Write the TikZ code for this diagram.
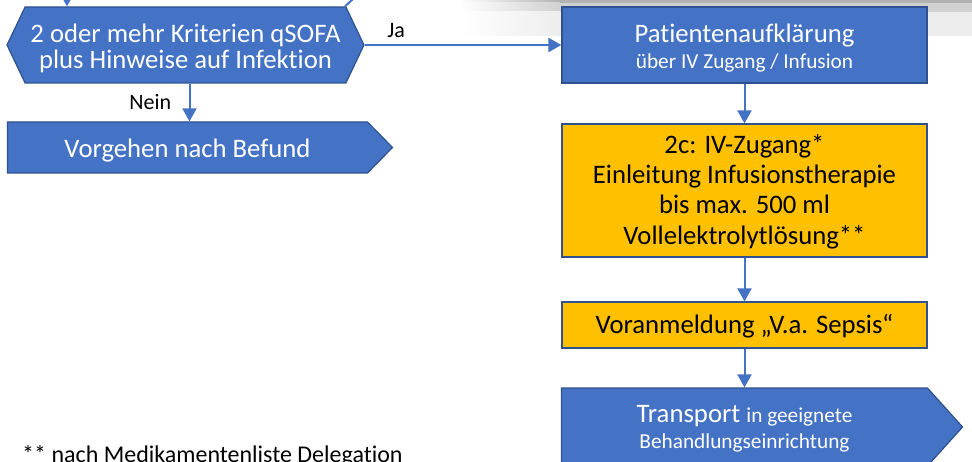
\documentclass[tikz,border=0pt]{standalone}
\usepackage{fontspec}
\setmainfont{Carlito}[Ligatures=NoCommon]
\usetikzlibrary{arrows.meta,shapes.symbols}
\definecolor{officeblue}{HTML}{4472C4}
\definecolor{officeborder}{HTML}{2F528F}
\definecolor{officegold}{HTML}{FFC000}
\tikzset{
  bluebox/.style={draw=officeborder, fill=officeblue, text=white, line width=1.2pt, align=center, inner sep=0pt,
                  font=\fontsize{26.7}{26}\selectfont},
  goldbox/.style={draw=officeborder, fill=officegold, text=black, line width=1.2pt, align=center, inner sep=0pt,
                  font=\fontsize{26.7}{30.3}\selectfont},
  flow/.style={draw=officeblue, line width=2pt, -{Triangle[width=14pt,length=13pt]}},
  plainline/.style={draw=officeblue, line width=2pt},
  label/.style={font=\fontsize{22}{26}\selectfont, text=black}
}
\newcommand{\smalltxt}{\fontsize{21.3}{25}\selectfont}
\newcommand{\lift}[1]{\rule{0pt}{#1pt}}
\begin{document}
\begin{tikzpicture}[x=1pt,y=-1pt]
    \useasboundingbox (0,0) rectangle (972,462);

    % Shadow strip at the top
    \foreach \ya/\yb/\tone in {0/3/30, 3/12/18, 12/36/7} {
        \shade[left color=white, right color=black!\tone] (460,\ya) rectangle (560,\yb);
        \fill[black!\tone] (560,\ya) rectangle (972,\yb);
    }

    % Decision and left branch
    \node[bluebox, signal, signal to=west and east, signal pointer angle=129,
          minimum width=357, minimum height=76] (krit) at (185.5,45)
          {\lift{25.3}2 oder mehr Kriterien qSOFA\\plus Hinweise auf Infektion};
    \node[bluebox, signal, signal to=east, signal pointer angle=91,
          minimum width=385, minimum height=51] (befund) at (187.5,147.5)
          {\lift{24.3}Vorgehen nach Befund};

    % Right column
    \node[bluebox, minimum width=365, minimum height=76] (aufkl) at (744.5,45)
          {\lift{25.3}Patientenaufklärung\\\smalltxt über IV Zugang / Infusion};
    \node[goldbox, minimum width=365, minimum height=133] (zugang) at (744.5,190.5)
          {\lift{21}2c: IV-Zugang*\\Einleitung Infusionstherapie\\bis max. 500 ml\\Vollelektrolytlösung**};
    \node[goldbox, minimum width=365, minimum height=46] (voran) at (744.5,325)
          {\lift{21.3}Voranmeldung „V.a. Sepsis“};
    \node[bluebox, signal, signal to=east, signal pointer angle=96,
          minimum width=401, minimum height=78] (transport) at (744.5,427)
          {\lift{21}Transport {\smalltxt in geeignete}\\\smalltxt Behandlungseinrichtung};

    % Footnote
    \node[anchor=base west, inner sep=0pt, font=\fontsize{24}{28}\selectfont] (fussnote) at (22,462)
          {** nach Medikamentenliste Delegation};

    % Incoming connectors from above
    \coordinate (oben) at (67,-2);
    \coordinate (obenrechts) at (354,-2);
    \draw[flow] (oben) -- (oben |- krit.north);
    \draw[plainline] (obenrechts) -- (krit.north -| 345,0);

    % Connectors
    \draw[flow] (krit.east) -- (aufkl.west) node[label, pos=0.16, above=3pt] {Ja};
    \draw[flow] ([xshift=4pt]krit.south) -- ([xshift=4pt]krit.south |- befund.north) node[label, midway, left=14pt] {Nein};
    \draw[flow] (aufkl.south) -- (zugang.north);
    \draw[flow] (zugang.south) -- (voran.north);
    \draw[flow] (voran.south) -- (voran.south |- transport.north);
\end{tikzpicture}
\end{document}
